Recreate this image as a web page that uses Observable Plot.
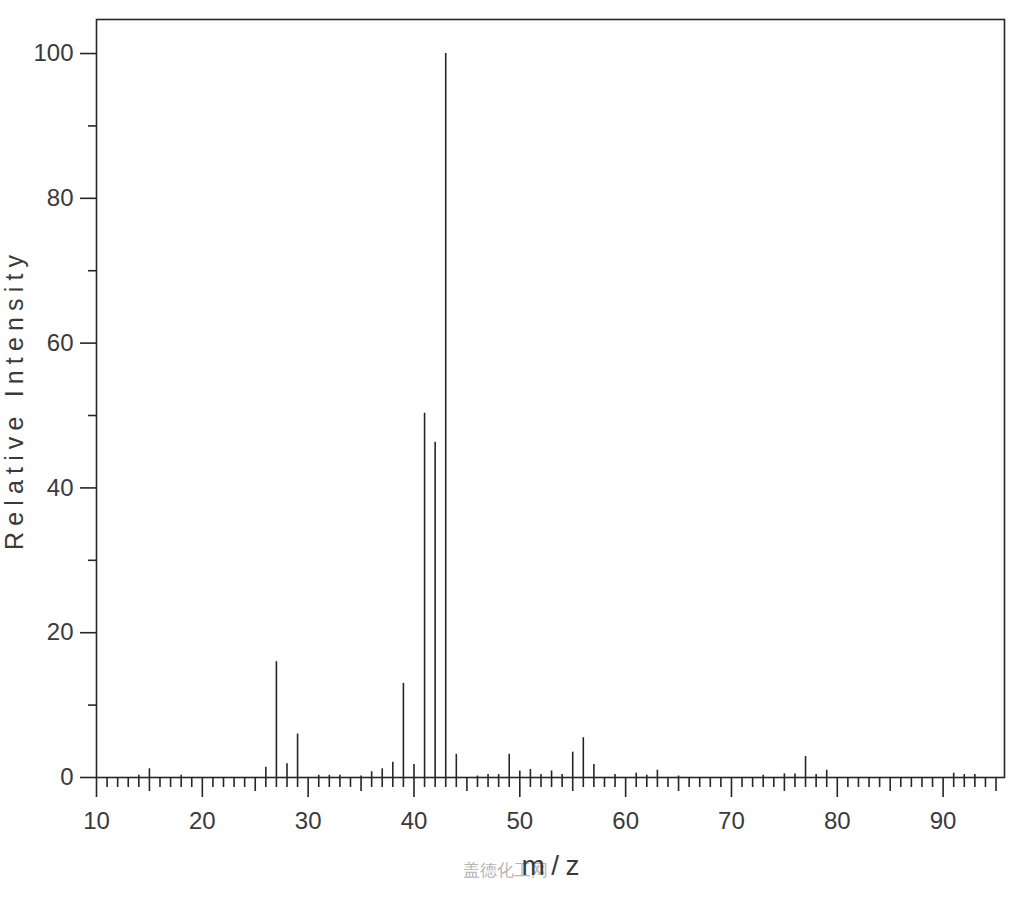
<!DOCTYPE html>
<html><head><meta charset="utf-8">
<script src="https://cdn.jsdelivr.net/npm/d3@7"></script>
<script src="https://cdn.jsdelivr.net/npm/@observablehq/plot@0.6"></script>
<style>
html,body{margin:0;padding:0;background:#fff;}
</style></head><body><div id="chart"></div>
<script>
// m/z values and relative intensities
const mz =        [14, 15, 18, 26, 27,   28,  29,  31,  32,  33,  35,  36,  37,  38,  39,   40,  41,   42,   43,  44,  46,  47,  48,  49,  50,  51,  52,  53,  54,  55,  56,  57,  59,  61,  62,  63,  65,  73,  75,  76,  77,  78,  79,  91,  92,  93];
const intensity = [0.3,1.2,0.3,1.4,16.0, 1.9, 6.0, 0.3, 0.3, 0.3, 0.2, 0.8, 1.2, 2.1, 13.0, 1.8, 50.3, 46.3, 100, 3.2, 0.2, 0.4, 0.4, 3.2, 0.9, 1.1, 0.4, 0.9, 0.4, 3.5, 5.5, 1.8, 0.4, 0.6, 0.3, 1.0, 0.2, 0.3, 0.5, 0.5, 2.9, 0.4, 1.0, 0.6, 0.4, 0.4];

const xLabelTicks = [10, 20, 30, 40, 50, 60, 70, 80, 90];
const xMidTicks = [15, 25, 35, 45, 55, 65, 75, 85, 95];
const xMinorTicks = [11,12,13,14,16,17,18,19,21,22,23,24,26,27,28,29,31,32,33,34,36,37,38,39,41,42,43,44,46,47,48,49,51,52,53,54,56,57,58,59,61,62,63,64,66,67,68,69,71,72,73,74,76,77,78,79,81,82,83,84,86,87,88,89,91,92,93,94];
const yLabelTicks = [0, 20, 40, 60, 80, 100];
const yMinorTicks = [10, 30, 50, 70, 90];

const xTitle = "m/z";
const yTitle = "Relative Intensity";
const watermark = "盖德化工网";

const data = mz.map((m, i) => ({mz: m, intensity: intensity[i]}));

const ink = "#262626";
const textInk = "#3a3a3a";
const noLabel = () => "";
const chart = Plot.plot({
  width: 1024,
  height: 900,
  marginLeft: 96,
  marginRight: 20,
  marginTop: 19,
  marginBottom: 123,
  style: {fontFamily: "'Liberation Sans', Arial, sans-serif", background: "#fff", color: ink},
  x: {domain: [10, 95.8]},
  y: {domain: [0, 104.7]},
  marks: [
    Plot.frame({stroke: ink, strokeWidth: 1.6}),
    Plot.axisX(xMinorTicks, {tickSize: 10, tickFormat: noLabel, label: null, stroke: ink, strokeWidth: 1.6}),
    Plot.axisX(xMidTicks, {tickSize: 14, tickFormat: noLabel, label: null, stroke: ink, strokeWidth: 1.6}),
    Plot.axisX(xLabelTicks, {tickSize: 20, tickPadding: 14, label: null, fontSize: 24, fill: textInk, stroke: ink, strokeWidth: 1.6}),
    Plot.axisY(yMinorTicks, {tickSize: 8, tickFormat: noLabel, label: null, stroke: ink, strokeWidth: 1.6}),
    Plot.axisY(yLabelTicks, {tickSize: 16, tickPadding: 7, label: null, fontSize: 24, fill: textInk, stroke: ink, strokeWidth: 1.6}),
    Plot.ruleX(data, {x: "mz", y1: 0, y2: "intensity", stroke: ink, strokeWidth: 1.6}),
    Plot.text([yTitle], {frameAnchor: "left", textAnchor: "middle", dx: -82, dy: 4, rotate: -90, fontSize: 25, fill: textInk}),
    Plot.text([watermark], {frameAnchor: "bottom", dx: -45, dy: 98, fontSize: 17, fill: "#b5b5b5"}),
    Plot.text([xTitle], {frameAnchor: "bottom", dx: 0, dy: 97, fontSize: 28, fill: textInk})
  ]
});
d3.select(chart).selectAll("text").each(function () {
  const t = this.textContent;
  if (t === yTitle) { this.setAttribute("textLength", "295"); this.setAttribute("lengthAdjust", "spacing"); }
  if (t === xTitle) { this.setAttribute("textLength", "58"); this.setAttribute("lengthAdjust", "spacing"); }
});
document.getElementById("chart").append(chart);
</script></body></html>
